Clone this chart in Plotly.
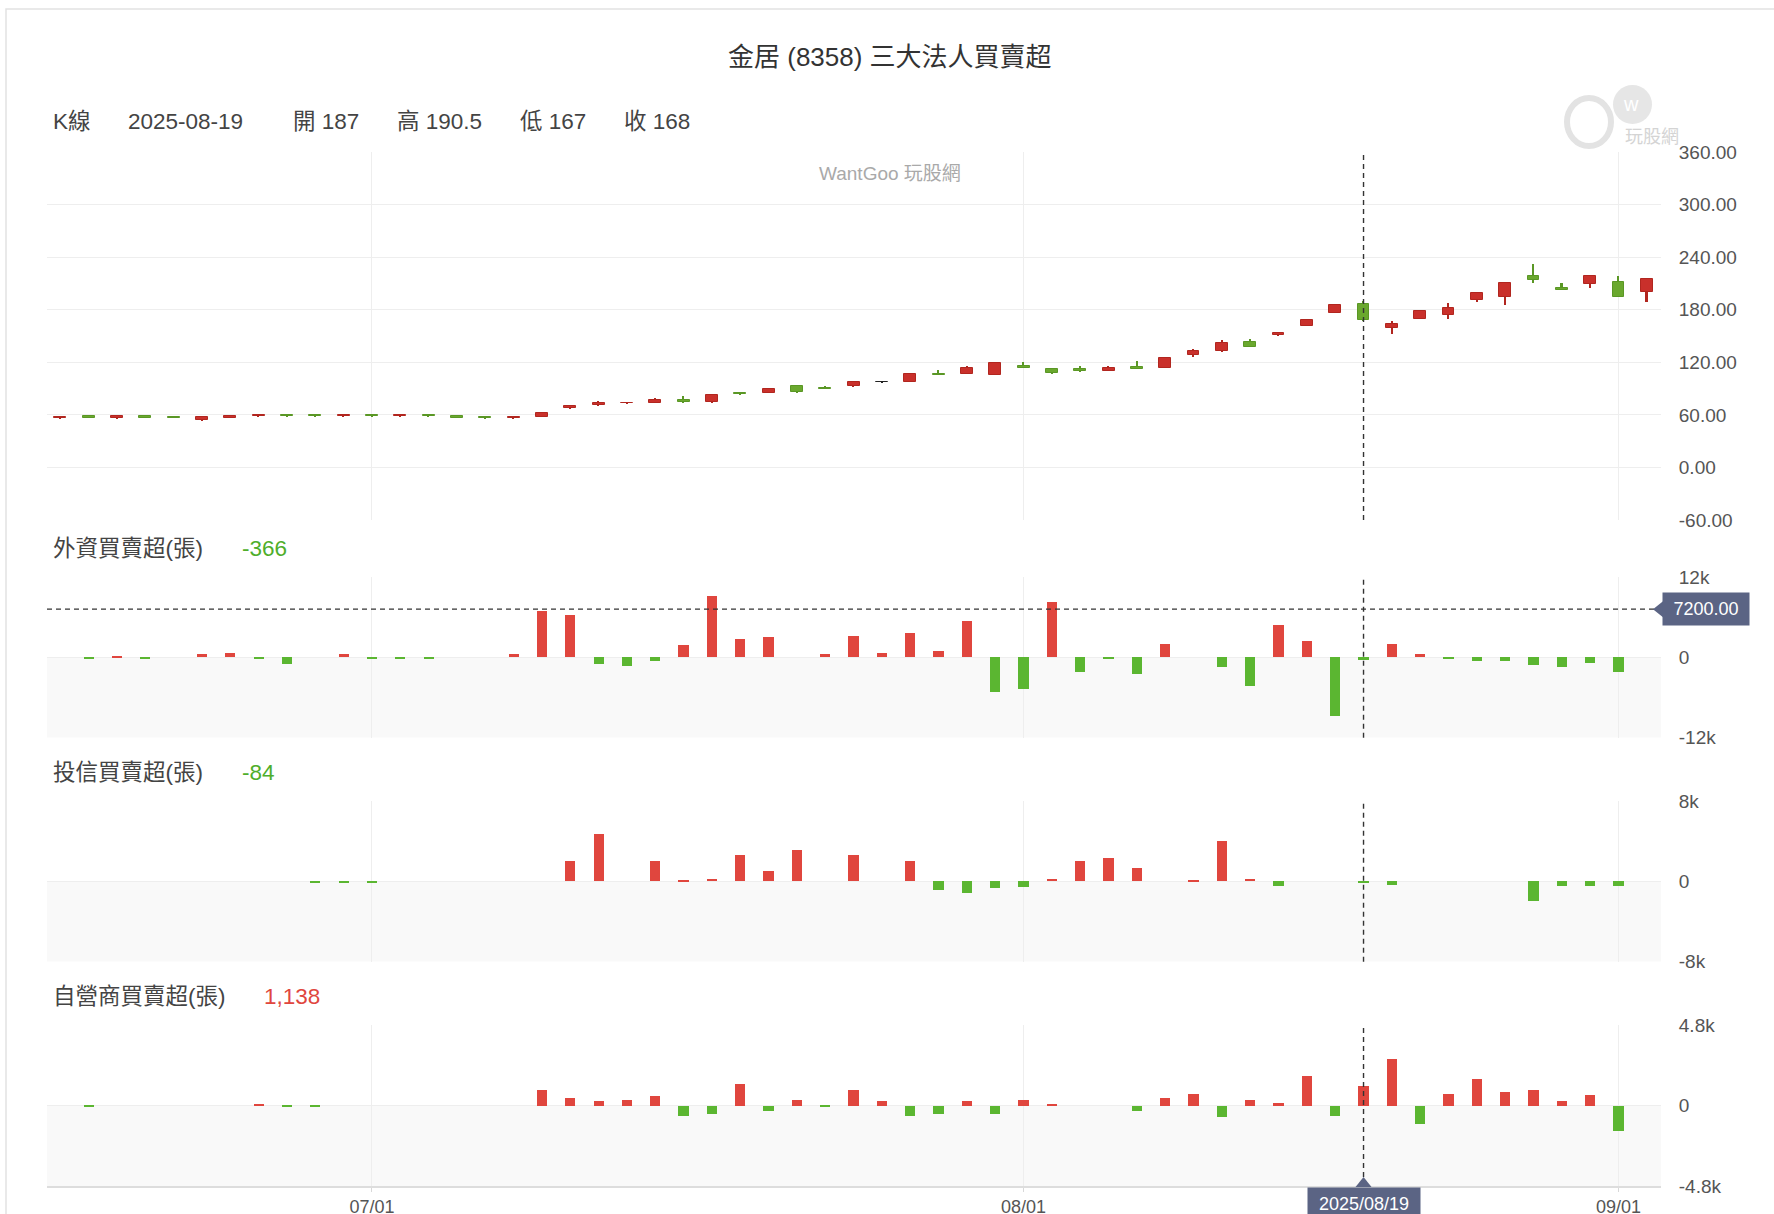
import plotly.graph_objects as go

# ---------------- data ----------------
dates = [
    "2025-06-16", "2025-06-17", "2025-06-18", "2025-06-19", "2025-06-20", "2025-06-23",
    "2025-06-24", "2025-06-25", "2025-06-26", "2025-06-27", "2025-06-30",
    "2025-07-01", "2025-07-02", "2025-07-03", "2025-07-04", "2025-07-07", "2025-07-08",
    "2025-07-09", "2025-07-10", "2025-07-11", "2025-07-14", "2025-07-15", "2025-07-16",
    "2025-07-17", "2025-07-18", "2025-07-21", "2025-07-22", "2025-07-23", "2025-07-24",
    "2025-07-25", "2025-07-28", "2025-07-29", "2025-07-30", "2025-07-31",
    "2025-08-01", "2025-08-04", "2025-08-05", "2025-08-06", "2025-08-07", "2025-08-08",
    "2025-08-11", "2025-08-12", "2025-08-13", "2025-08-14", "2025-08-15", "2025-08-18",
    "2025-08-19", "2025-08-20", "2025-08-21", "2025-08-22", "2025-08-25", "2025-08-26",
    "2025-08-27", "2025-08-28", "2025-08-29", "2025-09-01", "2025-09-02",
]
opens = [56.5, 59, 56, 59, 57.5, 54, 56, 58.5, 59, 59, 58.5,
         59, 58.5, 59, 59, 57.5, 56.5, 58, 67.5, 71, 73, 74, 77,
         74.5, 84.5, 85.5, 93, 90.5, 92.5, 97, 97.5, 106.5, 107, 105.5,
         116, 112.5, 112, 110.5, 114.5, 113.5, 128, 132.5, 143, 151, 161.5, 176.5,
         187, 159, 169.5, 174, 191, 195, 218, 204.5, 209, 212, 200.5]
highs = [57.5, 59.5, 59.5, 59.5, 58, 57.5, 59.5, 59.5, 59.5, 59.5, 59.5,
         59.5, 59.5, 59.5, 59.5, 58, 57.5, 63, 70.5, 75.5, 74, 79, 81,
         83, 86.5, 90.5, 93.5, 93, 99, 99, 107, 111, 115.5, 120.5,
         120, 114, 116, 115.5, 121.5, 125, 135, 145, 147, 154.5, 168.5, 185.5,
         190.5, 167, 178.5, 187.5, 199.5, 210.5, 232.5, 211, 220, 218, 216]
lows = [56, 56, 55.5, 56, 56.5, 53.5, 56, 58, 58, 58, 58,
        58, 58, 58, 56, 56, 56, 57.5, 67, 70.5, 72.5, 73.5, 74,
        74, 83, 85, 85.5, 89, 92, 96.5, 97, 105, 107, 105,
        113, 107, 109, 110, 112, 113, 126.5, 132, 138, 150.5, 161, 176,
        167, 152.5, 169, 169, 189, 185.5, 210, 202.5, 205, 195, 189]
closes = [57, 56, 59, 56, 56.5, 57, 59, 59, 58.5, 58.5, 59,
          58.5, 59, 58.5, 56, 56.5, 57, 62.5, 70, 74, 73.5, 77, 74.5,
          82.5, 83.5, 90, 86, 89, 97, 97, 107, 105.5, 113.5, 119.5,
          113, 107.5, 110.5, 113.5, 112, 124.5, 132.5, 141.5, 138, 154, 168.5, 185,
          168, 164, 178.5, 181.5, 199.5, 210, 213.5, 202.5, 218, 195, 215.5]

foreign = [0, -300, 200, -200, 0, 450, 700, -200, -1000, 0, 450,
           -200, -200, -200, 0, 0, 450, 6850, 6350, -1000, -1300, -550, 1900,
           9150, 2800, 3050, 0, 450, 3250, 700, 3700, 900, 5400, -5100,
           -4800, 8200, -2200, -300, -2450, 2050, 0, -1500, -4350, 4900, 2500, -8800,
           -366, 2050, 450, -200, -500, -500, -1200, -1500, -850, -2200, 0]
trust = [0, 0, 0, 0, 0, 0, 0, 0, 0, -100, -100,
         -100, 0, 0, 0, 0, 0, 0, 2000, 4700, 0, 2000, 100,
         250, 2600, 1050, 3100, 0, 2600, 0, 2000, -900, -1200, -700,
         -550, 250, 2000, 2350, 1350, 0, 100, 4000, 250, -500, 0, 0,
         -84, -350, 0, 0, 0, 0, -2000, -500, -500, -500, 0]
dealer = [0, -50, 0, 0, 0, 0, 0, 60, -50, -50, 0,
          0, 0, 0, 0, 0, 0, 900, 450, 250, 350, 550, -600,
          -500, 1300, -350, 350, -100, 900, 250, -600, -500, 250, -500,
          350, 80, 0, 0, -350, 450, 700, -700, 350, 150, 1750, -600,
          1138, 2800, -1100, 700, 1600, 800, 900, 250, 600, -1500, 0]

month_ticks = ["2025-07-01", "2025-08-01", "2025-09-01"]
month_labels = ["07/01", "08/01", "09/01"]

price_ticks = [-60, 0, 60, 120, 180, 240, 300, 360]
price_labels = ["-60.00", "0.00", "60.00", "120.00", "180.00", "240.00", "300.00", "360.00"]
foreign_ticks = [-12000, 0, 12000]
foreign_labels = ["-12k", "0", "12k"]
trust_ticks = [-8000, 0, 8000]
trust_labels = ["-8k", "0", "8k"]
dealer_ticks = [-4800, 0, 4800]
dealer_labels = ["-4.8k", "0", "4.8k"]

cross_date = "2025-08-19"
cross_value = 7200

title_text = "金居 (8358) 三大法人買賣超"

# ---------------- layout helpers ----------------
W, H = 1774, 1214
ML, MR, MT, MB = 47, 113, 0, 28
PW = W - ML - MR
PH = H - MT - MB


def fx(px):
    return (px - ML) / PW


def fy(py):
    return (PH - (py - MT)) / PH


XR = [-0.47, 56.5]

FONT = "Helvetica Neue, Helvetica, Liberation Sans, Arial, Noto Sans CJK TC, sans-serif"
RED_C, RED_CL = "#c9302b", "#b1261f"
GREEN_C, GREEN_CL = "#6aa82e", "#5a9725"
DOJI = "#222222"
RED_B, GREEN_B = "#e0463e", "#5bb631"
GRID = "#eeeeee"

fill_cols, line_cols = [], []
for o, c in zip(opens, closes):
    if c > o:
        fill_cols.append(RED_C); line_cols.append(RED_CL)
    elif c < o:
        fill_cols.append(GREEN_C); line_cols.append(GREEN_CL)
    else:
        fill_cols.append(DOJI); line_cols.append(DOJI)

body_base = [min(o, c) for o, c in zip(opens, closes)]
body_h = [max(abs(c - o), 1.0) for o, c in zip(opens, closes)]
wick_h = [h - l for h, l in zip(highs, lows)]

fig = go.Figure()
fig.add_trace(go.Bar(x=dates, y=wick_h, base=lows, width=0.06,
                     marker=dict(color=line_cols, line=dict(width=0)),
                     xaxis="x", yaxis="y", hoverinfo="skip", showlegend=False))
fig.add_trace(go.Bar(x=dates, y=body_h, base=body_base, width=0.42,
                     marker=dict(color=fill_cols, line=dict(color=line_cols, width=1)),
                     xaxis="x", yaxis="y", showlegend=False))


def bar_colors(vals):
    return [RED_B if v > 0 else GREEN_B for v in vals]


for vals, ax in [(foreign, "2"), (trust, "3"), (dealer, "4")]:
    fig.add_trace(go.Bar(x=dates, y=vals, width=0.36,
                         marker=dict(color=bar_colors(vals), line=dict(width=0)),
                         xaxis="x" + ax, yaxis="y" + ax, showlegend=False))

dom1 = [fy(520), fy(152)]
dom2 = [fy(737.7), fy(577)]
dom3 = [fy(961.7), fy(801)]
dom4 = [0, fy(1025)]

xcommon = dict(type="category", range=XR, tickvals=month_ticks, ticktext=month_labels,
               showgrid=True, gridcolor=GRID, gridwidth=1, zeroline=False, fixedrange=True)
ycommon = dict(side="right", showgrid=True, gridcolor=GRID, zeroline=False,
               tickfont=dict(size=19, color="#555555", family=FONT),
               ticks="outside", ticklen=13, tickcolor="rgba(0,0,0,0)", showline=False)

layout = dict(
    width=W, height=H,
    margin=dict(l=ML, r=MR, t=MT, b=MB, autoexpand=False),
    paper_bgcolor="white", plot_bgcolor="rgba(0,0,0,0)",
    barmode="overlay", bargap=0, showlegend=False,
    font=dict(family=FONT, color="#444444"),
    xaxis=dict(xcommon, anchor="y", showticklabels=False, ticks=""),
    xaxis2=dict(xcommon, anchor="y2", matches="x", showticklabels=False, ticks=""),
    xaxis3=dict(xcommon, anchor="y3", matches="x", showticklabels=False, ticks=""),
    xaxis4=dict(xcommon, anchor="y4", matches="x", showticklabels=True,
                ticks="outside", ticklen=4, tickcolor="#d8d8d8",
                showline=True, linecolor="#dddddd", linewidth=1.5,
                tickfont=dict(size=18, color="#555555", family=FONT)),
    yaxis=dict(ycommon, domain=dom1, anchor="x", range=[-60, 360], tickvals=price_ticks,
               ticktext=price_labels),
    yaxis2=dict(ycommon, domain=dom2, anchor="x2", range=[-12000, 12000],
                tickvals=foreign_ticks, ticktext=foreign_labels),
    yaxis3=dict(ycommon, domain=dom3, anchor="x3", range=[-8000, 8000],
                tickvals=trust_ticks, ticktext=trust_labels),
    yaxis4=dict(ycommon, domain=dom4, anchor="x4", range=[-4800, 4800],
                tickvals=dealer_ticks, ticktext=dealer_labels),
)
fig.update_layout(**layout)

shapes = []
# outer frame
shapes.append(dict(type="rect", xref="paper", yref="paper", x0=fx(6), x1=fx(1800),
                   y0=fy(1300), y1=fy(9), line=dict(color="#e2e2e2", width=1.5),
                   fillcolor="rgba(0,0,0,0)", layer="below"))
# shaded negative areas
for yr, lo in [("y2", -12000), ("y3", -8000), ("y4", -4800)]:
    shapes.append(dict(type="rect", xref="x domain", yref=yr, x0=0, x1=1, y0=lo, y1=0,
                       fillcolor="#f9f9f9", line=dict(width=0), layer="below"))
# crosshair vertical lines
for yr in ["y", "y2", "y3", "y4"]:
    shapes.append(dict(type="line", xref="x", yref=yr + " domain", x0=cross_date, x1=cross_date,
                       y0=0, y1=1, line=dict(color="#333333", width=1.4, dash="5px,4px")))
# crosshair horizontal in foreign panel
shapes.append(dict(type="line", xref="x domain", yref="y2", x0=0, x1=1, y0=cross_value,
                   y1=cross_value, line=dict(color="#333333", width=1.4, dash="5px,4px")))

ci = dates.index(cross_date)
cross_px = ML + (ci - XR[0]) / (XR[1] - XR[0]) * PW
dy_units = 8 / (737.7 - 577) * 24000
shapes.append(dict(type="path", xref="paper", yref="y2",
                   path=f"M {fx(1653)} {cross_value} L {fx(1663)} {cross_value + dy_units} "
                        f"L {fx(1663)} {cross_value - dy_units} Z",
                   fillcolor="#5b6484", line=dict(width=0)))
shapes.append(dict(type="path", xref="paper", yref="paper",
                   path=f"M {fx(cross_px)} {fy(1177)} L {fx(cross_px - 8)} {fy(1187)} "
                        f"L {fx(cross_px + 8)} {fy(1187)} Z",
                   fillcolor="#5b6484", line=dict(width=0)))
# faint logo shapes (top right)
shapes.append(dict(type="circle", xref="paper", yref="paper", x0=fx(1567), x1=fx(1611),
                   y0=fy(146), y1=fy(98), fillcolor="rgba(0,0,0,0)",
                   line=dict(color="#e3e3e3", width=6), layer="below"))
shapes.append(dict(type="circle", xref="paper", yref="paper", x0=fx(1613), x1=fx(1652),
                   y0=fy(124), y1=fy(85), fillcolor="#e6e6e6", line=dict(width=0), layer="below"))
fig.update_layout(shapes=shapes)

ann = []


def txt(x, y, text, size=22.5, color="#444444", xanchor="left", **kw):
    ann.append(dict(x=fx(x), y=fy(y), xref="paper", yref="paper", text=text, showarrow=False,
                    xanchor=xanchor, yanchor="middle",
                    font=dict(size=size, color=color, family=FONT), **kw))


txt(890, 57, title_text, size=26, color="#333333", xanchor="center")
fmt = lambda v: f"{v:g}"
txt(51, 122, "K線")
txt(126, 122, cross_date)
txt(291, 122, "開 " + fmt(opens[ci]))
txt(395, 122, "高 " + fmt(highs[ci]))
txt(518, 122, "低 " + fmt(lows[ci]))
txt(622, 122, "收 " + fmt(closes[ci]))
txt(890, 174, "WantGoo 玩股網", size=19, color="#a9a9a9", xanchor="center")
txt(1652, 137, "玩股網", size=18, color="#d4d4d4", xanchor="center")
txt(1631, 104, "w", size=20, color="#ffffff", xanchor="center")


def val_color(v):
    return RED_B if v > 0 else ("#4fae2b" if v < 0 else "#444444")


txt(51, 548, "外資買賣超(張)")
txt(240, 548, f"{foreign[ci]:,}", color=val_color(foreign[ci]))
txt(51, 772, "投信買賣超(張)")
txt(240, 772, f"{trust[ci]:,}", color=val_color(trust[ci]))
txt(51, 996, "自營商買賣超(張)")
txt(262, 996, f"{dealer[ci]:,}", color=val_color(dealer[ci]))

# crosshair value labels
ann.append(dict(x=fx(1662), y=cross_value, xref="paper", yref="y2", text=f"{cross_value:.2f}",
                showarrow=False, xanchor="left", yanchor="middle", bgcolor="#5b6484",
                width=80, height=26, borderpad=3,
                font=dict(size=18, color="white", family=FONT)))
ann.append(dict(x=cross_date, y=fy(1187), xref="x4", yref="paper",
                text=cross_date.replace("-", "/"), showarrow=False, xanchor="center",
                yanchor="top", bgcolor="#5b6484", width=106, height=26, borderpad=3,
                font=dict(size=18, color="white", family=FONT)))
fig.update_layout(annotations=ann)

fig.write_html("out.html")
